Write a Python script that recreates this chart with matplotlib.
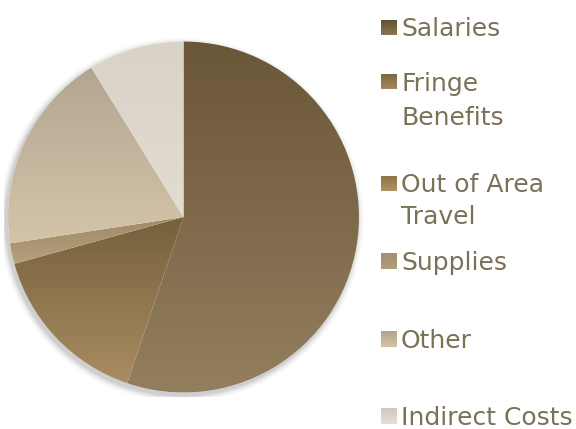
import numpy as np
import matplotlib
matplotlib.use("Agg")
import matplotlib.pyplot as plt
from matplotlib.colors import LinearSegmentedColormap
from matplotlib.patches import Circle

categories = ["Salaries", "Fringe Benefits", "Out of Area Travel", "Supplies", "Other", "Indirect Costs"]
label_lines = [["Salaries"], ["Fringe", "Benefits"], ["Out of Area", "Travel"], ["Supplies"], ["Other"], ["Indirect Costs"]]
values = [55.2, 15.5, 0.0, 1.9, 18.6, 8.8]
grad_top = ["#6a5738", "#75603c", "#8a7043", "#a08a66", "#b3a591", "#d9d2c7"]
grad_bot = ["#937e5e", "#a88c62", "#b39566", "#b4a07f", "#d4c5a9", "#e2dcd3"]
legend_top = ["#5f4e33", "#7a6541", "#8c7245", "#a3906f", "#b0a28c", "#d0c8bd"]
legend_bot = ["#8b7650", "#a5895c", "#b09365", "#b29d7c", "#d4c5a8", "#e4ded6"]

W, H = 576, 429
fig = plt.figure(figsize=(W / 100, H / 100), dpi=100)
fig.patch.set_facecolor("white")

cx, cy, r = 183.5, 217.0, 175.5
half = 180.0
ax = fig.add_axes([(cx - half) / W, (H - cy - half) / H, 2 * half / W, 2 * half / H])

# soft shadow
for i, a in enumerate(np.linspace(0.05, 0.012, 6)):
    ax.add_patch(Circle((-2, -3), r + 1 + i * 1.2, color="black", alpha=a, lw=0, zorder=0))
ax.add_patch(Circle((0, 0), r, color="white", lw=0, zorder=0.5))

wedges, _ = ax.pie(values, radius=r, startangle=90, counterclock=False,
                   wedgeprops=dict(linewidth=0), center=(0, 0), frame=True)

for w, ct, cb in zip(wedges, grad_top, grad_bot):
    w.set_facecolor("none")
    if w.theta2 - w.theta1 <= 0:
        continue
    verts = w.get_path().vertices
    ymin, ymax = verts[:, 1].min(), verts[:, 1].max()
    cmap = LinearSegmentedColormap.from_list("g", [cb, ct])
    grad = np.linspace(0, 1, 256).reshape(-1, 1)
    im = ax.imshow(grad, cmap=cmap, extent=[-r, r, ymin, ymax], origin="lower",
                   aspect="auto", zorder=1, interpolation="bilinear")
    im.set_clip_path(w)

ax.set_xlim(-half, half)
ax.set_ylim(-half, half)
ax.set_aspect("equal")
ax.axis("off")

# legend
text_color = "#7a7158"
square_centers = [27.5, 81.5, 183.5, 261.0, 339.0, 416.0]
line_gaps = [33.0, 34.5, 32.0, 33.0, 33.0, 33.0]
sq = 15.5
for lines, yc, gap, ct, cb in zip(label_lines, square_centers, line_gaps, legend_top, legend_bot):
    lax = fig.add_axes([380.5 / W, (H - yc - sq / 2) / H, sq / W, sq / H])
    lax.axis("off")
    cmap = LinearSegmentedColormap.from_list("l", [cb, ct])
    lax.imshow(np.linspace(0, 1, 64).reshape(-1, 1), cmap=cmap, origin="lower",
               aspect="auto", extent=[0, 1, 0, 1])
    for k, line in enumerate(lines):
        fig.text(401 / W, 1 - (yc + k * gap + 9) / H, line, color=text_color,
                 fontsize=18, family="DejaVu Sans", va="baseline", ha="left")

fig.savefig("out.png", dpi=100, facecolor="white")
